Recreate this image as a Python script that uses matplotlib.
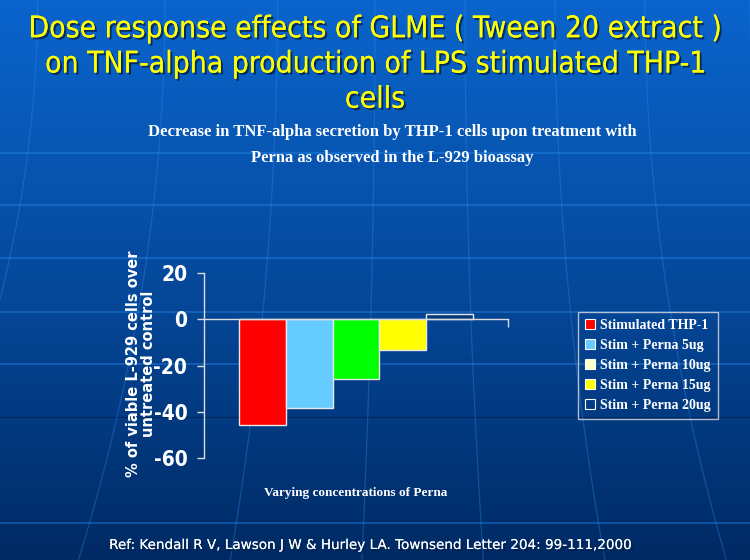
import numpy as np
import matplotlib.pyplot as plt
import matplotlib.patheffects as pe
from matplotlib.patches import Patch

plt.rcParams['axes.unicode_minus'] = False

# data
groups = ['Stimulated THP-1', 'Stim + Perna 5ug', 'Stim + Perna 10ug',
          'Stim + Perna 15ug', 'Stim + Perna 20ug']
values = [-45.7, -38.5, -25.8, -13.4, 2.2]
bar_colors = ['#ff0000', '#66ccff', '#00ff00', '#ffff00', '#003a78']
legend_colors = ['#ff0000', '#66ccff', '#ffffcc', '#ffff00', 'none']
yticks = [-60, -40, -20, 0, 20]

title = ('Dose response effects of GLME ( Tween 20 extract )\n'
         'on TNF-alpha production of LPS stimulated THP-1\ncells')
subtitle = ('Decrease in TNF-alpha secretion by THP-1 cells upon treatment with\n'
            'Perna as observed in the L-929 bioassay')
ref = 'Ref: Kendall R V, Lawson J W & Hurley LA. Townsend Letter 204: 99-111,2000'

fig = plt.figure(figsize=(7.5, 5.6), dpi=100)

# slide background: blue gradient with faint globe lines
bg = fig.add_axes([0, 0, 1, 1])
t = np.linspace(0, 1, 256)[:, None]
top = np.array([10, 100, 204]) / 255
bot = np.array([0, 42, 100]) / 255
grad = top + (bot - top) * t[..., None] ** 1.1
bg.imshow(np.repeat(grad, 4, axis=1), aspect='auto', extent=[0, 1, 0, 1], origin='upper')
for yy in [153, 205, 258, 312, 364, 523]:
    bg.axhline(1 - yy / 560, color='#2a8cf0', lw=1.2, alpha=0.45)
bg.axhline(1 - 417 / 560, color='#002050', lw=1.0, alpha=0.6)
s = np.linspace(0, 1, 100)
for x0 in [-0.35, -0.15, 0.05, 0.22, 0.37, 0.5, 0.62, 0.74, 0.86, 1.0]:
    bend = (x0 - 0.55) * 0.35
    bg.plot(x0 + bend * s ** 2, 1 - s, color='#2a8cf0', lw=0.9, alpha=0.35)
bg.set_xlim(0, 1)
bg.set_ylim(0, 1)
bg.axis('off')

shadow = [pe.withSimplePatchShadow(offset=(1.5, -1.5), shadow_rgbFace='#00204a', alpha=0.8),
          pe.Normal()]
fig.text(0.5, 1 - 64 / 560, title, ha='center', va='center', color='#ffff00',
         fontsize=21.5, family='DejaVu Sans', stretch='condensed', linespacing=1.27,
         path_effects=shadow)
fig.text(392 / 750, 1 - 145 / 560, subtitle, ha='center', va='center', color='white',
         fontsize=12, family='Liberation Serif', weight='bold', linespacing=1.75)
fig.text(370 / 750, 1 - 545 / 560, ref, ha='center', va='center', color='white',
         fontsize=9.75, family='DejaVu Sans', path_effects=shadow)

ax = fig.add_axes([204 / 750, 1 - 458 / 560, 304 / 750, 185 / 560])
ax.patch.set_alpha(0)
x = np.arange(len(values))
ax.bar(x, values, width=1.0, color=bar_colors, edgecolor='#e8e8e8', linewidth=1.0)
ax.set_xlim(-1.25, 5.25)
ax.set_ylim(-60, 20)
ax.set_yticks(yticks)
ax.set_xticks([5.25])
ax.set_xticklabels([])
ax.spines['top'].set_visible(False)
ax.spines['right'].set_visible(False)
ax.spines['bottom'].set_position(('data', 0))
for sp in ['left', 'bottom']:
    ax.spines[sp].set_color('#dddddd')
    ax.spines[sp].set_linewidth(1.0)
ax.tick_params(axis='y', colors='#dddddd', length=5, width=1, pad=7, labelcolor='white')
ax.tick_params(axis='x', colors='#dddddd', length=6, width=1)
for lab in ax.get_yticklabels():
    lab.set_family('DejaVu Sans')
    lab.set_stretch('condensed')
    lab.set_weight('bold')
    lab.set_fontsize(15)

fig.text(141 / 750, 1 - 364 / 560, '% of viable L-929 cells over\nuntreated control',
         rotation=90, ha='center', va='center', color='white', fontsize=10.5,
         family='DejaVu Sans', weight='bold', linespacing=0.95)
fig.text(356 / 750, 1 - 493 / 560, 'Varying concentrations of Perna', ha='center',
         va='center', color='white', fontsize=9.5, family='Liberation Serif', weight='bold')

handles = [Patch(facecolor=c, edgecolor='white', linewidth=0.8) for c in legend_colors]
leg = fig.legend(handles, groups, loc='upper left', bbox_to_anchor=(578 / 750, 1 - 312 / 560),
                 borderaxespad=0, frameon=True, fancybox=False, handlelength=0.7,
                 handleheight=0.7, handletextpad=0.4, labelspacing=0.5, borderpad=0.5,
                 prop={'family': 'Liberation Serif', 'weight': 'bold', 'size': 10})
leg.get_frame().set_facecolor('none')
leg.get_frame().set_edgecolor('#dddddd')
leg.get_frame().set_linewidth(1.0)
for txt in leg.get_texts():
    txt.set_color('white')

fig.savefig('out.png', dpi=100)
